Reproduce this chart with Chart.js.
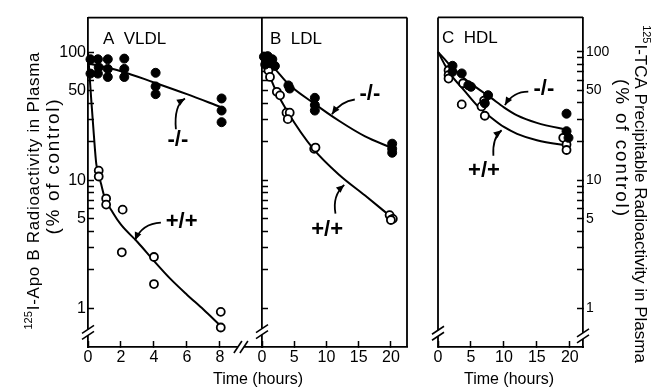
<!DOCTYPE html>
<html>
<head>
<meta charset="utf-8">
<script src="https://cdn.jsdelivr.net/npm/chart.js@4.4.1/dist/chart.umd.min.js"></script>
<style>
  body { margin: 0; background: #fff; }
  #wrap { position: relative; width: 652px; height: 390px; overflow: hidden; }
  #wrap canvas { position: absolute; left: 0; top: 0; }
</style>
</head>
<body>
<div id="wrap">
  <canvas id="panelA" width="652" height="390"></canvas>
  <canvas id="panelB" width="652" height="390"></canvas>
  <canvas id="panelC" width="652" height="390"></canvas>
</div>
<script>
const FONT = '"Liberation Sans", Arial, Helvetica, sans-serif';

// A - VLDL  (filled = -/-, open = +/+)
const vldlKoT = [0.15, 0.15, 0.6, 0.65, 0.6, 1.2, 1.2, 1.2, 2.2, 2.2, 2.2, 4.1, 4.1, 4.1, 8.1, 8.1, 8.1];
const vldlKoV = [88, 68, 88, 76, 68, 88, 74, 64, 89, 74, 64, 69, 54, 47, 43.5, 35, 28.4];
const vldlWtT = [0.65, 0.65, 1.1, 1.1, 2.1, 2.05, 4.0, 4.0, 8.05, 8.05];
const vldlWtV = [11.9, 10.7, 7.2, 6.46, 5.9, 2.74, 2.52, 1.55, 0.94, 0.71];
const vldlKoFitT = [0, 2, 4, 6, 8];
const vldlKoFitV = [82, 71, 58, 47, 37.5];
const vldlWtFitT = [0, 0.2, 0.35, 0.5, 0.65, 0.8, 1, 1.5, 2, 3, 4, 5, 6, 7, 8];
const vldlWtFitV = [100, 42, 23, 13.5, 11, 9.3, 7.4, 5.6, 4.5, 3.3, 2.35, 1.7, 1.28, 0.98, 0.74];

// B - LDL
const ldlKoT = [0.3, 0.9, 1.6, 2.0, 0.5, 1.2, 4.1, 4.3, 8.2, 8.2, 8.2, 20.2, 20.2, 20.2];
const ldlKoV = [92, 93, 88, 78, 80, 82, 55, 52, 44, 38.6, 35, 19.3, 17.6, 16.4];
const ldlWtT = [1.0, 1.24, 2.3, 2.8, 3.8, 4.3, 4.0, 8.1, 8.3, 19.8, 20.3, 20.0];
const ldlWtV = [72, 64, 49, 46, 33.7, 33.7, 30, 17.6, 18, 5.35, 5.0, 4.9];
const ldlKoFitT = [0, 2, 4, 8, 12, 16, 20];
const ldlKoFitV = [93, 74, 57, 40, 29, 22, 18];
const ldlWtFitT = [0, 1, 2, 4, 8, 12, 16, 20];
const ldlWtFitV = [82, 68, 52, 34, 17.5, 11, 7.6, 5.2];

// C - HDL
const hdlKoT = [2.2, 2.2, 3.6, 4.6, 5.0, 7.6, 7.1, 19.5, 19.5, 19.8];
const hdlKoV = [78, 70, 68, 55, 53.5, 46, 39.8, 33, 24.1, 21.4];
const hdlWtT = [1.6, 1.6, 1.6, 3.8, 3.6, 7.0, 6.6, 7.1, 19.0, 19.5, 19.5];
const hdlWtV = [72, 66, 62, 57, 39, 41.8, 37.6, 31.8, 21.4, 19, 17.2];
const hdlKoFitT = [0, 1, 2, 4, 6, 8, 10, 12, 15, 20];
const hdlKoFitV = [100, 88, 77, 62, 52, 44, 37, 32, 28, 24.5];
const hdlWtFitT = [0, 1, 2, 4, 6, 8, 10, 12, 15, 20];
const hdlWtFitV = [100, 80, 66, 50, 38, 31, 26, 23, 20.5, 18.5];

// axes
const yTickValues = [1, 2, 3, 4, 5, 6, 7, 8, 9, 10, 20, 30, 40, 50, 60, 70, 80, 90, 100];
const yTickLabels = [1, 5, 10, 50, 100];
const vldlHourTicks = [0, 2, 4, 6, 8];
const hourTicks = [0, 5, 10, 15, 20];

const pts = (xs, ys) => xs.map((x, i) => ({ x: x, y: ys[i] }));

function drawArrow(ctx, p0, c, p1) {
  ctx.beginPath();
  ctx.moveTo(p0.x, p0.y);
  ctx.quadraticCurveTo(c.x, c.y, p1.x, p1.y);
  ctx.stroke();
  const a = Math.atan2(p1.y - c.y, p1.x - c.x);
  const len = 8, w = 3.5;
  ctx.beginPath();
  ctx.moveTo(p1.x, p1.y);
  ctx.lineTo(p1.x - len * Math.cos(a) + w * Math.sin(a), p1.y - len * Math.sin(a) - w * Math.cos(a));
  ctx.lineTo(p1.x - len * Math.cos(a) - w * Math.sin(a), p1.y - len * Math.sin(a) + w * Math.cos(a));
  ctx.closePath();
  ctx.fill();
}

function drawBreakY(ctx, x, y) {
  ctx.save();
  ctx.strokeStyle = '#fff';
  ctx.lineWidth = 4;
  ctx.beginPath(); ctx.moveTo(x, y - 3); ctx.lineTo(x, y + 3); ctx.stroke();
  ctx.strokeStyle = '#000';
  ctx.lineWidth = 1.6;
  [-3, 3].forEach(d => {
    ctx.beginPath(); ctx.moveTo(x - 6, y + d + 4); ctx.lineTo(x + 6, y + d - 4); ctx.stroke();
  });
  ctx.restore();
}

function drawBreakX(ctx, x, y) {
  ctx.save();
  ctx.strokeStyle = '#fff';
  ctx.lineWidth = 4;
  ctx.beginPath(); ctx.moveTo(x - 3, y); ctx.lineTo(x + 3, y); ctx.stroke();
  ctx.strokeStyle = '#000';
  ctx.lineWidth = 1.6;
  [-3, 3].forEach(d => {
    ctx.beginPath(); ctx.moveTo(x + d - 4, y + 6); ctx.lineTo(x + d + 4, y - 6); ctx.stroke();
  });
  ctx.restore();
}

// rotated text (optional leading superscript), stretched to a given length
function rotText(ctx, sup, main, cx, cy, angle, size, span) {
  ctx.save();
  ctx.translate(cx, cy);
  ctx.rotate(angle);
  ctx.fillStyle = '#000';
  ctx.textBaseline = 'alphabetic';
  ctx.textAlign = 'left';
  ctx.font = '11px ' + FONT;
  const ws = sup ? ctx.measureText(sup).width + 1 : 0;
  ctx.font = size + 'px ' + FONT;
  const wm = ctx.measureText(main).width;
  const gap = Math.max(0, (span - ws - wm) / (main.length - 1));
  const total = ws + wm + gap * (main.length - 1);
  let x = -total / 2;
  if (sup) {
    ctx.font = '11px ' + FONT;
    ctx.fillText(sup, x, -1.5);
    ctx.font = size + 'px ' + FONT;
  }
  x += ws;
  for (const ch of main) {
    ctx.fillText(ch, x, 5.8);
    x += ctx.measureText(ch).width + gap;
  }
  ctx.restore();
}

function panel(id, o) {
  const decor = {
    id: 'decor' + id,
    afterDraw(chart) {
      const ctx = chart.ctx;
      const a = chart.chartArea;
      const xs = chart.scales.x, ys = chart.scales.y;
      const P = (t, v) => ({ x: xs.getPixelForValue(t), y: ys.getPixelForValue(v) });
      ctx.save();
      ctx.strokeStyle = '#000';
      ctx.fillStyle = '#000';
      ctx.lineWidth = 1.8;
      ctx.lineCap = 'butt';
      // frame sides not drawn by the axes
      ctx.beginPath();
      ctx.moveTo(a.left, a.top); ctx.lineTo(a.right, a.top);
      if (o.frameRight) { ctx.moveTo(a.right, a.top); ctx.lineTo(a.right, a.bottom); }
      if (o.frameLeft) { ctx.moveTo(a.left, a.top); ctx.lineTo(a.left, a.bottom); }
      ctx.stroke();
      // axis breaks
      (o.breaksY || []).forEach(b => drawBreakY(ctx, b.side === 'right' ? a.right : a.left, ys.getPixelForValue(b.v)));
      (o.breaksX || []).forEach(t => drawBreakX(ctx, xs.getPixelForValue(t), a.bottom));
      // panel title
      ctx.font = '17px ' + FONT;
      ctx.textAlign = 'left';
      ctx.textBaseline = 'alphabetic';
      ctx.fillText(o.title, a.left + o.titleDx, a.top + 26);
      // genotype labels and arrows
      ctx.font = 'bold 22px ' + FONT;
      ctx.textAlign = 'center';
      ctx.textBaseline = 'middle';
      o.notes.forEach(n => {
        const p = P(n.t, n.v);
        ctx.fillText(n.text, p.x, p.y);
        ctx.lineWidth = 1.8;
        drawArrow(ctx, P(n.arrow[0], n.arrow[1]), P(n.arrow[2], n.arrow[3]), P(n.arrow[4], n.arrow[5]));
      });
      if (o.extra) o.extra(ctx, a);
      ctx.restore();
    }
  };

  const tickGrid = { drawOnChartArea: false, drawTicks: true, tickLength: -6, tickWidth: 1.5, tickColor: '#000' };

  return new Chart(document.getElementById(id), {
    type: 'scatter',
    data: {
      datasets: [
        { data: pts(o.koT, o.koV), showLine: false, pointStyle: 'circle', pointRadius: 4.5,
          pointBackgroundColor: '#000', pointBorderColor: '#000', pointBorderWidth: 1, clip: 10 },
        { data: pts(o.wtT, o.wtV), showLine: false, pointStyle: 'circle', pointRadius: 4,
          pointBackgroundColor: '#fff', pointBorderColor: '#000', pointBorderWidth: 1.8, clip: 10 },
        { type: 'line', data: pts(o.koFitT, o.koFitV), borderColor: '#000', borderWidth: 2,
          pointRadius: 0, cubicInterpolationMode: 'monotone', fill: false, clip: 10 },
        { type: 'line', data: pts(o.wtFitT, o.wtFitV), borderColor: '#000', borderWidth: 2,
          pointRadius: 0, cubicInterpolationMode: 'monotone', fill: false, clip: 10 }
      ]
    },
    options: {
      responsive: false,
      animation: false,
      devicePixelRatio: 1,
      layout: { autoPadding: false, padding: o.padding },
      plugins: { legend: { display: false }, tooltip: { enabled: false } },
      scales: {
        x: {
          type: 'linear', min: 0, max: o.xMax,
          afterBuildTicks: s => { s.ticks = o.xTicks.map(v => ({ value: v })); },
          afterFit: s => { s.height = 43; },
          grid: tickGrid,
          border: { color: '#000', width: 1.8 },
          ticks: { color: '#000', font: { family: FONT, size: 16 }, padding: 7, maxRotation: 0, autoSkip: false }
        },
        y: {
          type: 'logarithmic', position: o.yPos, min: 0.5, max: 186,
          afterBuildTicks: s => { s.ticks = yTickValues.map(v => ({ value: v })); },
          afterFit: s => { s.width = o.yWidth; },
          grid: tickGrid,
          border: { color: '#000', width: 1.8 },
          ticks: {
            color: '#000', font: { family: FONT, size: o.yFont }, padding: o.yPad, autoSkip: false,
            callback: v => (o.yLabels && yTickLabels.includes(v)) ? String(v) : ''
          }
        }
      }
    },
    plugins: [decor]
  });
}

panel('panelA', {
  koT: vldlKoT, koV: vldlKoV, wtT: vldlWtT, wtV: vldlWtV,
  koFitT: vldlKoFitT, koFitV: vldlKoFitV, wtFitT: vldlWtFitT, wtFitV: vldlWtFitV,
  padding: { left: 0, right: 390, top: 13, bottom: 0 },
  xMax: 10.55, xTicks: vldlHourTicks, yPos: 'left', yWidth: 88, yLabels: true, yFont: 16, yPad: 8,
  title: 'A  VLDL', titleDx: 15,
  breaksY: [{ v: 0.65, side: 'left' }], breaksX: [9.27],
  notes: [
    { text: '-/-', t: 5.45, v: 20.7, arrow: [5.33, 25, 5.2, 38.4, 5.88, 43.5] },
    { text: '+/+', t: 5.68, v: 4.75, arrow: [4.42, 4.67, 3.27, 4.59, 2.85, 3.4] }
  ],
  extra: (ctx, a) => {
    rotText(ctx, '125', 'I-Apo B Radioactivity in Plasma', 33, 191, -Math.PI / 2, 17, 277);
    rotText(ctx, '', '(% of control)', 53, 167, -Math.PI / 2, 19, 135);
    ctx.font = '16px ' + FONT;
    ctx.textAlign = 'center';
    ctx.textBaseline = 'middle';
    ctx.fillText('Time (hours)', 258, 380);
  }
});

panel('panelB', {
  koT: ldlKoT, koV: ldlKoV, wtT: ldlWtT, wtV: ldlWtV,
  koFitT: ldlKoFitT, koFitV: ldlKoFitV, wtFitT: ldlWtFitT, wtFitV: ldlWtFitV,
  padding: { left: 252, right: 245, top: 13, bottom: 0 },
  xMax: 22.5, xTicks: hourTicks, yPos: 'left', yWidth: 10, yLabels: false, yFont: 16, yPad: 8,
  frameRight: true,
  title: 'B  LDL', titleDx: 8,
  breaksY: [{ v: 0.66, side: 'left' }],
  notes: [
    { text: '-/-', t: 16.74, v: 47.5, arrow: [14.4, 42.7, 12.25, 41.3, 10.85, 32.8] },
    { text: '+/+', t: 10.1, v: 4.12, arrow: [11.4, 5.5, 10.9, 7.6, 12.76, 9.2] }
  ]
});

panel('panelC', {
  koT: hdlKoT, koV: hdlKoV, wtT: hdlWtT, wtV: hdlWtV,
  koFitT: hdlKoFitT, koFitV: hdlKoFitV, wtFitT: hdlWtFitT, wtFitV: hdlWtFitV,
  padding: { left: 438, right: 39, top: 13, bottom: 0 },
  xMax: 22, xTicks: hourTicks, yPos: 'right', yWidth: 30, yLabels: true, yFont: 14, yPad: 9,
  frameLeft: true,
  title: 'C  HDL', titleDx: 4,
  breaksY: [{ v: 0.64, side: 'left' }, { v: 0.61, side: 'right' }],
  notes: [
    { text: '-/-', t: 16.06, v: 51.9, arrow: [13.7, 49, 11.4, 49, 10.15, 38.5] },
    { text: '+/+', t: 6.97, v: 11.9, arrow: [8.4, 15.5, 8.23, 21.4, 9.65, 24.5] }
  ],
  extra: (ctx, a) => {
    rotText(ctx, '125', 'I-TCA Precipitable Radioactivity in Plasma', 641, 194, Math.PI / 2, 17, 332);
    rotText(ctx, '', '(% of control)', 622, 147.5, Math.PI / 2, 19, 137);
    ctx.font = '16px ' + FONT;
    ctx.textAlign = 'center';
    ctx.textBaseline = 'middle';
    ctx.fillText('Time (hours)', 509, 380);
  }
});
</script>
</body>
</html>
